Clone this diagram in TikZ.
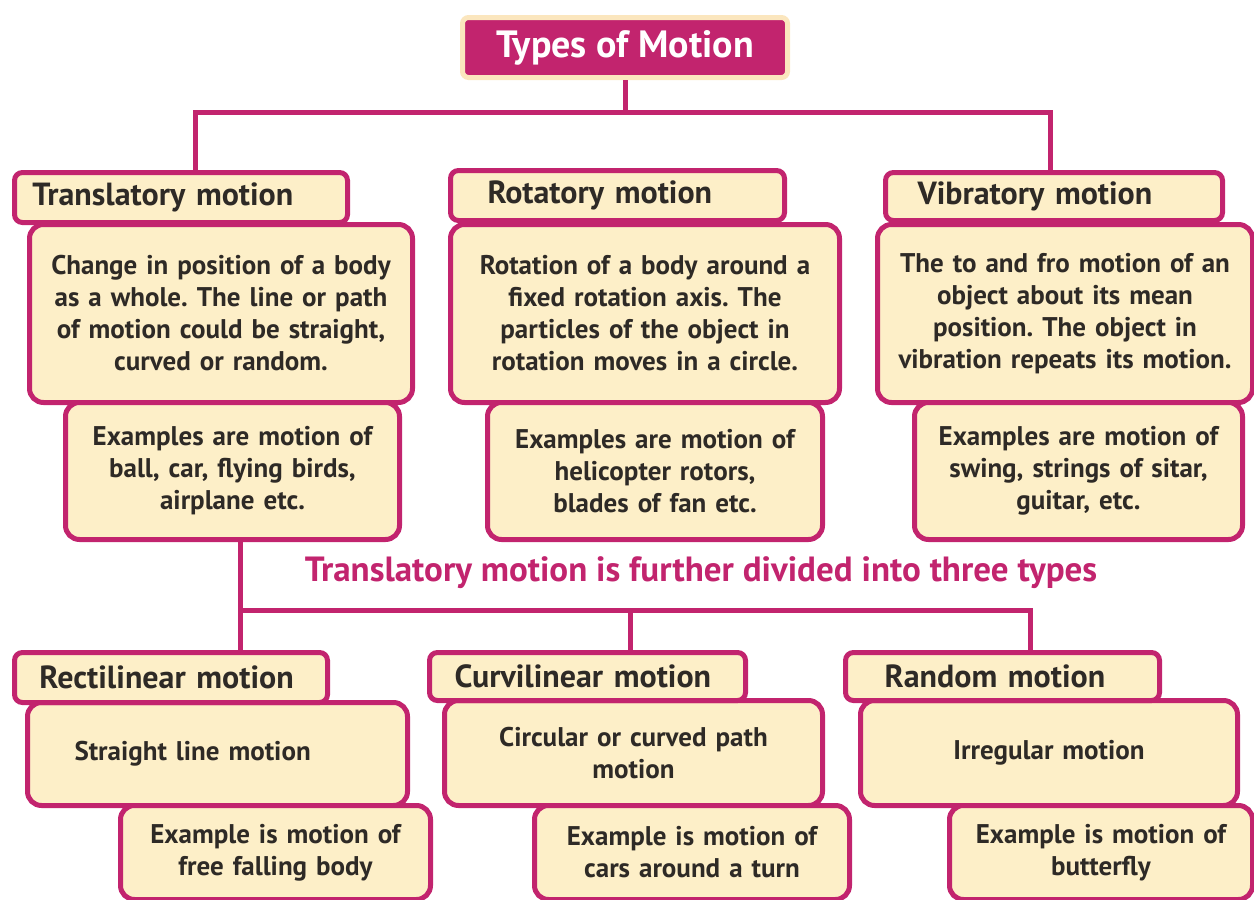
\documentclass[tikz,border=0pt]{standalone}
\usepackage{fontspec}
\setmainfont{PT Sans}
\usepackage{xcolor}
\usetikzlibrary{positioning}
\definecolor{mag}{HTML}{C2246E}
\definecolor{cream}{HTML}{FDEFC8}
\definecolor{rim}{HTML}{FBE6BE}
\definecolor{ink}{HTML}{2E2A26}
\frenchspacing

\begin{document}
\begin{tikzpicture}[
    x=0.5pt, y=-0.5pt,
    box/.style={rectangle, draw=mag, fill=cream, line width=2.5pt, rounded corners=7pt, anchor=north west, align=center, inner sep=0pt, text=ink, font=\bfseries\fontsize{13.5}{16}\selectfont},
    head/.style={box, rounded corners=4pt, align=left, font=\bfseries\fontsize{16}{18}\selectfont},
    link/.style={draw=mag, line width=2.5pt}
]
    \useasboundingbox (0,0) rectangle (1254,900);

    % titre
    \node[draw=rim, fill=mag, line width=2.5pt, rounded corners=3pt, anchor=north west, minimum width=162.5pt, minimum height=30pt, text=white, font=\bfseries\fontsize{19}{22}\selectfont] (title) at (460,15) {Types of Motion};

    % premiere rangee : descriptions
    \node[box, text width=191.5pt, minimum height=89pt] (transdesc) at (27,222) {Change in position of a body\\as a whole. The line or path\\of motion could be straight,\\curved or random.};
    \node[box, text width=194.5pt, minimum height=89pt] (rotdesc) at (448,222) {Rotation of a body around a\\fixed rotation axis. The\\particles of the object in\\rotation moves in a circle.};
    \node[box, text width=187.5pt, minimum height=89pt] (vibdesc) at (875,222) {The to and fro motion of an\\object about its mean\\position. The object in\\vibration repeats its motion.};

    % premiere rangee : titres
    \node[head, text width=148.5pt, inner xsep=9pt, minimum height=25pt] (trans) at (12,170) {Translatory motion};
    \node[head, text width=130pt, inner xsep=18.5pt, minimum height=25pt] (rot) at (448,168) {Rotatory motion};
    \node[head, text width=136.5pt, inner xsep=16pt, minimum height=24pt] (vib) at (883,170) {Vibratory motion};

    % premiere rangee : exemples
    \node[box, text width=167pt, minimum height=68.5pt] (transex) at (63,400) {Examples are motion of\\ball, car, flying birds,\\airplane etc.};
    \node[box, text width=167.5pt, minimum height=68.5pt] (rotex) at (485,400) {Examples are motion of\\helicopter rotors,\\blades of fan etc.};
    \node[box, text width=164pt, minimum height=68.5pt] (vibex) at (912,400) {Examples are motion of\\swing, strings of sitar,\\guitar, etc.};

    % sous-titre
    \node[text=mag, font=\bfseries\fontsize{17.5}{20}\selectfont] (sub) at (701,573) {Translatory motion is further divided into three types};

    % deuxieme rangee : descriptions
    \node[box, align=left, text width=143pt, inner xsep=23.5pt, minimum height=51.5pt] (rectdesc) at (25,700) {Straight line motion};
    \node[box, text width=189pt, minimum height=52.5pt] (curvdesc) at (442,698) {Circular or curved path\\motion};
    \node[box, text width=188.5pt, minimum height=52.5pt] (randdesc) at (858,698) {Irregular motion};

    % deuxieme rangee : titres
    \node[head, text width=131.5pt, inner xsep=12.5pt, minimum height=25pt] (rect) at (12,650) {Rectilinear motion};
    \node[head, text width=133pt, inner xsep=12.5pt, minimum height=24pt] (curv) at (427,650) {Curvilinear motion};
    \node[head, text width=118pt, inner xsep=19.5pt, minimum height=24pt] (rand) at (843,650) {Random motion};

    % deuxieme rangee : exemples
    \node[box, text width=155pt, minimum height=47pt] (rectex) at (118,803) {Example is motion of\\free falling body};
    \node[box, text width=157.5pt, minimum height=47pt] (curvex) at (532,803) {Example is motion of\\cars around a turn};
    \node[box, text width=151.5pt, minimum height=47pt] (randex) at (947,803) {Example is motion of\\butterfly};

    % liaisons du haut
    \coordinate (tl) at (195,112);
    \coordinate (tr) at (1050,112);
    \draw[link] (title.south) -- (title.south |- tl);
    \draw[link] (trans.north -| tl) -- (tl) -- (tr) -- (vib.north -| tr);

    % liaisons du bas
    \coordinate (bl) at (240,610);
    \coordinate (bm) at (630,610);
    \coordinate (br) at (1030,610);
    \draw[link] (transex.south -| bl) -- (rect.north -| bl);
    \draw[link] (bl) -- (br) -- (rand.north -| br);
    \draw[link] (bm) -- (curv.north -| bm);
\end{tikzpicture}
\end{document}
